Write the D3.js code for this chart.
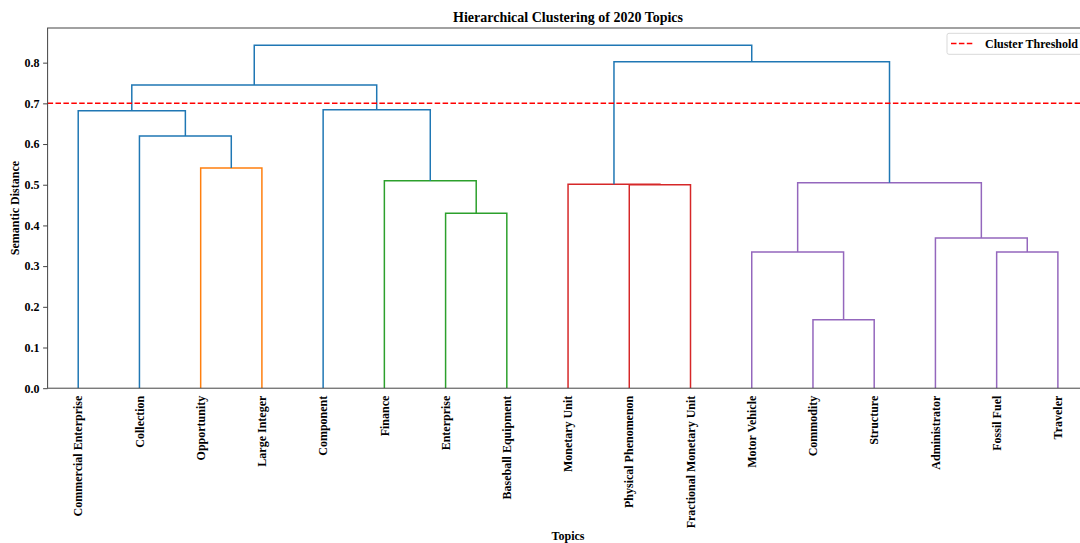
<!DOCTYPE html>
<html>
<head>
<meta charset="utf-8">
<script src="https://cdn.jsdelivr.net/npm/d3@7/dist/d3.min.js"></script>
<style>
  body { margin: 0; background: #fff; }
  text { font-family: "Liberation Serif", "Times New Roman", serif; font-weight: bold; fill: #000; }
</style>
</head>
<body>
<svg id="chart" width="1080" height="543"></svg>
<script>
// leaves in the order they appear along the x axis
const leaves = [
    'Commercial Enterprise', 'Collection', 'Opportunity', 'Large Integer',
    'Component', 'Finance', 'Enterprise', 'Baseball Equipment',
    'Monetary Unit', 'Physical Phenomenon', 'Fractional Monetary Unit',
    'Motor Vehicle', 'Commodity', 'Structure', 'Administrator', 'Fossil Fuel', 'Traveler'
];

// linkage rows [left, right, height]; ids >= leaves.length point to earlier rows
const linkage = [
    [12, 13, 0.168],
    [15, 16, 0.335],
    [11, 17, 0.335],
    [14, 18, 0.369],
    [6, 7, 0.430],
    [9, 10, 0.500],
    [8, 22, 0.501],
    [19, 20, 0.505],
    [5, 21, 0.510],
    [2, 3, 0.541],
    [1, 26, 0.620],
    [0, 27, 0.682],
    [4, 25, 0.684],
    [28, 29, 0.745],
    [23, 24, 0.802],
    [30, 31, 0.843]
];

const clusterColors = ['#ff7f0e', '#2ca02c', '#d62728', '#9467bd'];
const aboveColor = '#1f77b4';
const threshold = 0.7;
const yTicks = [0, 0.1, 0.2, 0.3, 0.4, 0.5, 0.6, 0.7, 0.8];

const pl = 47.6, pr = 1088.5, pt = 28, pb = 388.2;
const svg = d3.select('#chart');

const n = leaves.length;
const maxH = d3.max(linkage, d => d[2]);
const x = d3.scaleLinear().domain([0, n * 10]).range([pl, pr]);
const y = d3.scaleLinear().domain([0, maxH * 1.05]).range([pb, pt]);

// node positions, matplotlib style: leaf i at 5 + 10 i, parent at mean of children
const nodes = leaves.map((name, i) => ({ id: i, x: 5 + 10 * i, h: 0, leaf: true }));
linkage.forEach((row, k) => {
    const a = nodes[row[0]], b = nodes[row[1]];
    nodes.push({ id: n + k, a: a, b: b, x: (a.x + b.x) / 2, h: row[2], leaf: false });
});
const rootNode = nodes[nodes.length - 1];

// colour clusters below 0.7 * max height, left to right
const colorThreshold = 0.7 * maxH;
let ci = 0;
function paint(node, color) {
    if (node.leaf) return;
    let c = color;
    if (!c && node.h < colorThreshold) c = clusterColors[ci++ % clusterColors.length];
    node.color = c || aboveColor;
    paint(node.a, c);
    paint(node.b, c);
}
paint(rootNode, null);

const links = nodes.filter(d => !d.leaf);

svg.append('defs').append('clipPath').attr('id', 'plot')
    .append('rect').attr('x', pl).attr('y', pt).attr('width', pr - pl).attr('height', pb - pt);

svg.append('g').attr('clip-path', 'url(#plot)')
    .selectAll('path.link')
    .data(links)
    .enter().append('path')
    .attr('class', 'link')
    .attr('fill', 'none')
    .attr('stroke', d => d.color)
    .attr('stroke-width', 1.5)
    .attr('d', d => `M${x(d.a.x)},${y(d.a.h)}V${y(d.h)}H${x(d.b.x)}V${y(d.b.h)}`);

// threshold line
svg.append('line')
    .attr('x1', pl).attr('x2', pr)
    .attr('y1', y(threshold)).attr('y2', y(threshold))
    .attr('stroke', '#ff0000')
    .attr('stroke-width', 1.5)
    .attr('stroke-dasharray', '5.5,2.4');

// frame
svg.append('rect')
    .attr('x', pl).attr('y', pt)
    .attr('width', pr - pl).attr('height', pb - pt)
    .attr('fill', 'none').attr('stroke', '#444').attr('stroke-width', 1);

// y axis
const yAxis = svg.append('g')
    .attr('transform', `translate(${pl},0)`)
    .call(d3.axisLeft(y).tickValues(yTicks).tickFormat(d3.format('.1f')).tickSize(4.5).tickPadding(3.5));
yAxis.select('.domain').remove();
yAxis.selectAll('line').attr('stroke', '#444');
yAxis.selectAll('text').style('font-size', '12px').style('font-family', '"Liberation Serif", serif').style('font-weight', 'bold');

// leaf labels
svg.append('g').selectAll('text.leaf')
    .data(nodes.filter(d => d.leaf))
    .enter().append('text')
    .attr('class', 'leaf')
    .attr('transform', d => `translate(${x(d.x)},${pb + 7.5}) rotate(-90)`)
    .attr('text-anchor', 'end')
    .attr('dy', '0.35em')
    .style('font-size', '12px')
    .text(d => leaves[d.id]);

// title and axis labels
svg.append('text')
    .attr('x', (pl + pr) / 2).attr('y', 21.7)
    .attr('text-anchor', 'middle')
    .style('font-size', '14px')
    .text('Hierarchical Clustering of 2020 Topics');

svg.append('text')
    .attr('transform', `translate(19,${(pt + pb) / 2}) rotate(-90)`)
    .attr('text-anchor', 'middle')
    .style('font-size', '12px')
    .text('Semantic Distance');

svg.append('text')
    .attr('x', (pl + pr) / 2).attr('y', 539.5)
    .attr('text-anchor', 'middle')
    .style('font-size', '12px')
    .text('Topics');

// legend
const lg = svg.append('g').attr('transform', 'translate(947,33.3)');
lg.append('rect')
    .attr('width', 150).attr('height', 21)
    .attr('rx', 2)
    .attr('fill', '#fff').attr('fill-opacity', 0.8)
    .attr('stroke', '#d9d9d9');
lg.append('line')
    .attr('x1', 4).attr('x2', 26).attr('y1', 10.2).attr('y2', 10.2)
    .attr('stroke', '#ff0000').attr('stroke-width', 1.5)
    .attr('stroke-dasharray', '5.5,2.4');
lg.append('text')
    .attr('x', 38).attr('y', 14.3)
    .style('font-size', '12px')
    .text('Cluster Threshold');
</script>
</body>
</html>
